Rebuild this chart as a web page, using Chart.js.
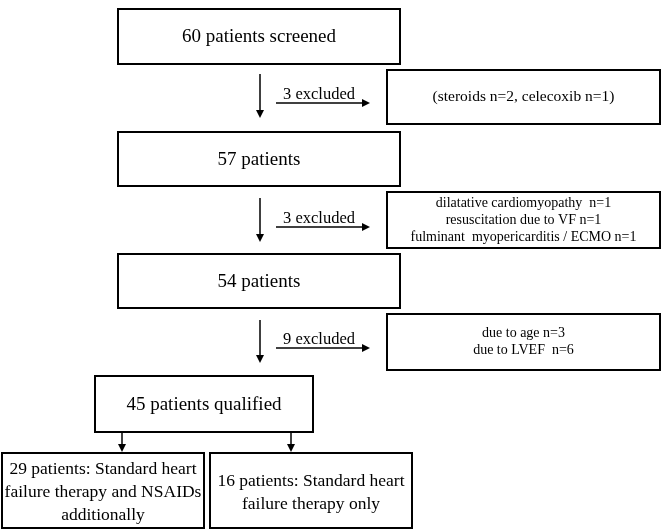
<!DOCTYPE html>
<html>
<head>
<meta charset="utf-8">
<script src="https://cdn.jsdelivr.net/npm/chart.js@4.4.1/dist/chart.umd.min.js"></script>
<style>
  html, body { margin: 0; padding: 0; background: #fff; }
  #wrap { width: 662px; height: 530px; }
</style>
</head>
<body>
<div id="wrap"><canvas id="flowChart"></canvas></div>
<script>
// Flow data
const stageCounts = [60, 57, 54, 45];
const stageLabels = ['patients screened', 'patients', 'patients', 'patients qualified'];
const excludedCounts = [3, 3, 9];
const exclusionReasons = [
    ['(steroids n=2, celecoxib n=1)'],
    ['dilatative cardiomyopathy  n=1', 'resuscitation due to VF n=1', 'fulminant  myopericarditis / ECMO n=1'],
    ['due to age n=3', 'due to LVEF  n=6']
];
const groupCounts = [29, 16];
const groupLabels = [
    ['patients: Standard heart', 'failure therapy and NSAIDs', 'additionally'],
    ['patients: Standard heart', 'failure therapy only']
];

// Layout (in axis units, 0..662 x 0..530)
const stageBoxes = [[118, 9, 400, 64], [118, 132, 400, 186], [118, 254, 400, 308], [95, 376, 313, 432]];
const excludeBoxes = [[387, 70, 660, 124], [387, 192, 660, 248], [387, 314, 660, 370]];
const groupBoxes = [[2, 453, 204, 528], [210, 453, 412, 528]];
const downArrows = [[260, 74, 118], [260, 198, 242], [260, 320, 363]];
const sideArrows = [[276, 370, 103], [276, 370, 227], [276, 370, 348]];
const reasonSizes = [15.5, 14, 14];

const serif = '"Liberation Serif", "Times New Roman", serif';

const flowPlugin = {
    id: 'flow',
    afterDraw(chart) {
        const ctx = chart.ctx;
        const xs = chart.scales.x, ys = chart.scales.y;
        const px = v => xs.getPixelForValue(v);
        const py = v => ys.getPixelForValue(v);

        ctx.save();
        ctx.strokeStyle = '#000';
        ctx.fillStyle = '#000';
        ctx.lineWidth = 2;

        const box = b => {
            ctx.strokeRect(px(b[0]), py(b[1]), px(b[2]) - px(b[0]), py(b[3]) - py(b[1]));
        };
        const lines = (b, arr, size, gap, shift) => {
            ctx.font = size + 'px ' + serif;
            ctx.textAlign = 'center';
            ctx.textBaseline = 'middle';
            const cx = (px(b[0]) + px(b[2])) / 2;
            const cy = (py(b[1]) + py(b[3])) / 2 + (shift || 0);
            const start = cy - (arr.length - 1) * gap / 2;
            arr.forEach((t, i) => ctx.fillText(t, cx, start + i * gap));
        };
        const head = (x, y, dir) => {
            ctx.beginPath();
            if (dir === 'down') {
                ctx.moveTo(x, y); ctx.lineTo(x - 4, y - 8); ctx.lineTo(x + 4, y - 8);
            } else {
                ctx.moveTo(x, y); ctx.lineTo(x - 8, y - 4); ctx.lineTo(x - 8, y + 4);
            }
            ctx.closePath();
            ctx.fill();
        };

        stageBoxes.forEach((b, i) => {
            box(b);
            lines(b, [stageCounts[i] + ' ' + stageLabels[i]], 19, 0, 1);
        });
        excludeBoxes.forEach((b, i) => {
            box(b);
            lines(b, exclusionReasons[i], reasonSizes[i], 17, 0);
        });
        groupBoxes.forEach((b, i) => {
            box(b);
            const arr = groupLabels[i].slice();
            arr[0] = groupCounts[i] + ' ' + arr[0];
            lines(b, arr, 17.5, 23, 2);
        });

        ctx.lineWidth = 1.5;
        downArrows.forEach(a => {
            ctx.beginPath();
            ctx.moveTo(px(a[0]), py(a[1]));
            ctx.lineTo(px(a[0]), py(a[2]) - 6);
            ctx.stroke();
            head(px(a[0]), py(a[2]), 'down');
        });
        sideArrows.forEach((a, i) => {
            ctx.beginPath();
            ctx.moveTo(px(a[0]), py(a[2]));
            ctx.lineTo(px(a[1]) - 6, py(a[2]));
            ctx.stroke();
            head(px(a[1]), py(a[2]), 'right');
            ctx.font = '16.5px ' + serif;
            ctx.textAlign = 'center';
            ctx.textBaseline = 'alphabetic';
            ctx.fillText(excludedCounts[i] + ' excluded', (px(a[0]) + px(a[1])) / 2 - 4, py(a[2]) - 4);
        });

        // connectors from qualified box to the two groups
        const q = stageBoxes[3];
        groupBoxes.forEach((g, i) => {
            const gx = (g[0] + g[2]) / 2 + (i === 0 ? 19 : -20);
            ctx.beginPath();
            ctx.moveTo(px(gx), py(q[3]));
            ctx.lineTo(px(gx), py(g[1]) - 6);
            ctx.stroke();
            head(px(gx), py(g[1]) - 1, 'down');
        });
        ctx.restore();
    }
};

new Chart(document.getElementById('flowChart').getContext('2d'), {
    type: 'scatter',
    data: { datasets: [{ data: [], pointRadius: 0 }] },
    options: {
        responsive: true,
        maintainAspectRatio: false,
        animation: false,
        layout: { padding: 0 },
        plugins: { legend: { display: false }, tooltip: { enabled: false } },
        scales: {
            x: { type: 'linear', min: 0, max: 662, display: false },
            y: { type: 'linear', min: 0, max: 530, reverse: true, display: false }
        }
    },
    plugins: [flowPlugin]
});
</script>
</body>
</html>
